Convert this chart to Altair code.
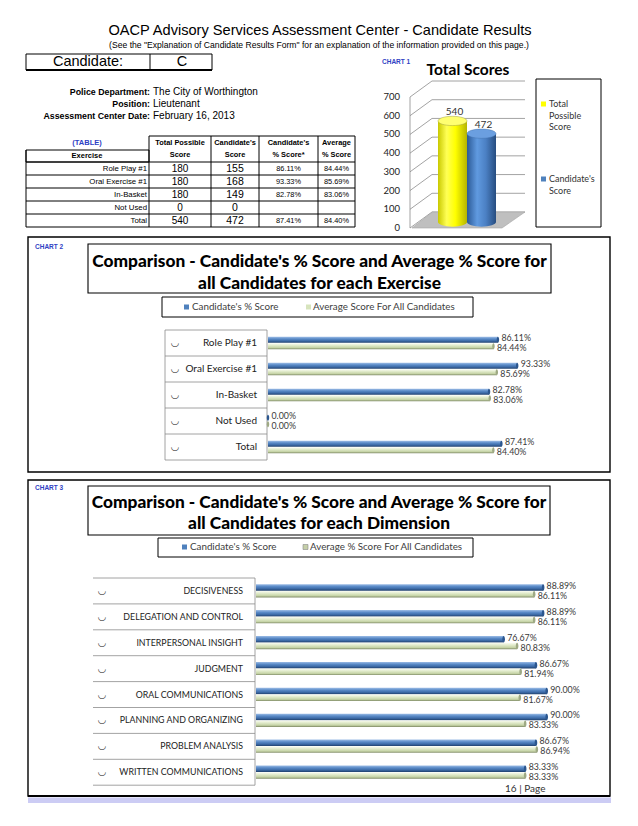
import altair as alt
import pandas as pd

# ------------------------------------------------------------------ data
exercises = ["Role Play #1", "Oral Exercise #1", "In-Basket", "Not Used", "Total"]
total_possible = [180, 180, 180, 0, 540]
candidate_score = [155, 168, 149, 0, 472]
candidate_pct_text = ["86.11%", "93.33%", "82.78%", "", "87.41%"]
average_pct_text = ["84.44%", "85.69%", "83.06%", "", "84.40%"]

total_series = ["Total Possible Score", "Candidate's Score"]
total_values = [540, 472]
total_ticks = [0, 100, 200, 300, 400, 500, 600, 700]

exercise_candidate_pct = [86.11, 93.33, 82.78, 0.00, 87.41]
exercise_average_pct = [84.44, 85.69, 83.06, 0.00, 84.40]

dimensions = ["DECISIVENESS", "DELEGATION AND CONTROL", "INTERPERSONAL INSIGHT",
              "JUDGMENT", "ORAL COMMUNICATIONS", "PLANNING AND ORGANIZING",
              "PROBLEM ANALYSIS", "WRITTEN COMMUNICATIONS"]
dimension_candidate_pct = [88.89, 88.89, 76.67, 86.67, 90.00, 90.00, 86.67, 83.33]
dimension_average_pct = [86.11, 86.11, 80.83, 81.94, 81.67, 83.33, 86.94, 83.33]

# ------------------------------------------------------------------ helpers
OFF = 8  # page margin
ARIAL = "Liberation Sans"
CAL = "Lato"
BLUE_TXT = "#2f3fc4"
one = pd.DataFrame({"k": [0]})
layers = []


def P(v):
    return alt.value(v - OFF)


def text(x, y, s, size=9, font=ARIAL, weight="normal", color="black",
         align="left", baseline="middle"):
    layers.append(alt.Chart(one).mark_text(
        text=s, fontSize=size, font=font, fontWeight=weight, color=color,
        align=align, baseline=baseline).encode(x=P(x), y=P(y)))


def rule(x1, y1, x2, y2, color="black", width=1.0):
    layers.append(alt.Chart(one).mark_rule(color=color, strokeWidth=width)
                  .encode(x=P(x1), y=P(y1), x2=P(x2), y2=P(y2)))


def box(x1, y1, x2, y2, stroke="black", width=1.0, fill=None):
    kw = {}
    if stroke:
        kw["stroke"] = stroke
        kw["strokeWidth"] = width
    if fill:
        kw["fill"] = fill
    else:
        kw["fillOpacity"] = 0
    layers.append(alt.Chart(one).mark_rect(**kw)
                  .encode(x=P(x1), y=P(y1), x2=P(x2), y2=P(y2)))


def grad(stops, vertical=True):
    st = [alt.GradientStop(color=c, offset=o) for o, c in stops]
    if vertical:
        return alt.Gradient(gradient="linear", stops=st, x1=0, x2=0, y1=0, y2=1)
    return alt.Gradient(gradient="linear", stops=st, x1=0, x2=1, y1=0, y2=0)


blue_h = grad([(0, "#9dbde6"), (0.35, "#5a8bc8"), (0.7, "#3c6aa6"), (1, "#1f3f6b")])
green_h = grad([(0, "#fbfdf4"), (0.4, "#dfe9c8"), (0.75, "#c5d3a6"), (1, "#7f8a66")])
yellow_v = grad([(0, "#c9c900"), (0.3, "#ffff55"), (0.6, "#ffff00"), (1, "#b5b500")], vertical=False)
blue_v = grad([(0, "#2c5a96"), (0.35, "#609ae0"), (0.65, "#4b80c4"), (1, "#274d80")], vertical=False)

ELLIPSE_H = "M -1 0 A 1 0.32 0 1 1 1 0 A 1 0.32 0 1 1 -1 0 Z"
ELLIPSE_V = "M 0 -1 A 0.4 1 0 1 1 0 1 A 0.4 1 0 1 1 0 -1 Z"

# ------------------------------------------------------------------ header
text(320, 31, "OACP Advisory Services Assessment Center - Candidate Results", size=14.6,
     align="center")
text(319, 45, '(See the "Explanation of Candidate Results Form" for an explanation of the '
     'information provided on this page.)', size=8.6, align="center")

box(26, 54, 212, 70, width=1)
rule(26, 70, 212, 70, width=2)
rule(150, 54, 150, 70, width=1)
text(88, 62, "Candidate:", size=14.5, align="center")
text(182, 62, "C", size=14.5, align="center")

for yy, lab, val in [(92, "Police Department:", "The City of Worthington"),
                     (104, "Position:", "Lieutenant"),
                     (116, "Assessment Center Date:", "February 16, 2013")]:
    text(150, yy, lab, size=8.8, weight="bold", align="right")
    text(153, yy, val, size=10)

# ------------------------------------------------------------------ table
text(87, 143, "(TABLE)", size=7.5, weight="bold", color=BLUE_TXT, align="center")
col_edges = [149, 211, 259, 318, 355]
row_top, row_h = 162, 13
row_bottom = row_top + row_h * len(exercises)
box(26, 150, 149, row_top, width=1)
text(87, 156, "Exercise", size=7.5, weight="bold", align="center")
rule(149, 136, 355, 136)
for xe in col_edges:
    rule(xe, 136, xe, row_bottom)
rule(26, 150, 26, row_bottom)
for k in range(len(exercises) + 1):
    rule(26, row_top + k * row_h, 355, row_top + k * row_h)
headers = [("Total Possible", "Score"), ("Candidate's", "Score"),
           ("Candidate's", "% Score*"), ("Average", "% Score")]
for i, (a, b) in enumerate(headers):
    cx = (col_edges[i] + col_edges[i + 1]) / 2
    text(cx, 143, a, size=7.4, weight="bold", align="center")
    text(cx, 155, b, size=7.4, weight="bold", align="center")

table_df = pd.DataFrame({"exercise": exercises, "possible": total_possible,
                         "score": candidate_score, "cpct": candidate_pct_text,
                         "apct": average_pct_text})
ty = alt.Y("exercise:N", axis=None,
           scale=alt.Scale(type="point", domain=exercises, padding=0,
                           range=[row_top + row_h / 2 - OFF, row_bottom - row_h / 2 - OFF]))
layers.append(alt.Chart(table_df).mark_text(align="right", fontSize=7.8, font=ARIAL)
              .encode(x=P(147), y=ty, text="exercise:N"))
for i, (fld, fs) in enumerate([("possible", 10), ("score", 10.5), ("cpct", 7.4), ("apct", 7.4)]):
    cx = (col_edges[i] + col_edges[i + 1]) / 2
    layers.append(alt.Chart(table_df).mark_text(align="center", fontSize=fs, font=ARIAL)
                  .encode(x=P(cx), y=ty, text=f"{fld}:N"))

# ------------------------------------------------------------------ chart 1
text(382, 62, "CHART 1", size=6.5, weight="bold", color=BLUE_TXT)
text(468, 70, "Total Scores", size=15.5, font=CAL, weight="bold", align="center")

ticks_df = pd.DataFrame({"v": total_ticks})
front = alt.Scale(domain=[0, 700], range=[228 - OFF, 97 - OFF])
back = alt.Scale(domain=[0, 700], range=[212 - OFF, 81 - OFF])
layers.append(alt.Chart(ticks_df).mark_rule(color="#8c8c8c", strokeWidth=0.8)
              .encode(x=P(432), x2=P(525), y=alt.Y("v:Q", scale=back, axis=None)))
layers.append(alt.Chart(ticks_df).transform_calculate(v2="datum.v + 85.5")
              .mark_rule(color="#8c8c8c", strokeWidth=0.8)
              .encode(x=P(410), x2=P(432), y=alt.Y("v:Q", scale=front, axis=None), y2="v2:Q"))
layers.append(alt.Chart(ticks_df).mark_text(align="right", fontSize=9.5, font=CAL, color="#222")
              .encode(x=P(400), y=alt.Y("v:Q", scale=front, axis=None), text="v:Q"))
rule(410, 97, 410, 228, color="#8c8c8c", width=0.8)

FLOOR = "M -1 0.1416 L 0.593 0.1416 L 1 -0.1416 L -0.637 -0.1416 Z"
layers.append(alt.Chart(one).mark_point(shape=FLOOR, size=113 * 113, filled=True,
                                        fill="#bfbfbf", stroke="#a5a5a5", strokeWidth=0.6,
                                        opacity=1).encode(x=P(468.5), y=P(220)))

c1 = pd.DataFrame({"series": total_series, "value": total_values})
BW = 29
bx = alt.Scale(type="band", domain=total_series, range=[438 - OFF, 438 + 2 * BW - OFF],
               paddingInner=0, paddingOuter=0)
by = alt.Scale(domain=[0, 700], range=[222 - OFF, 91 - OFF])
for name, body, cap, edge in [(total_series[0], yellow_v, "#ffff70", "#8a8a40"),
                              (total_series[1], blue_v, "#6b9fe0", "#3d6aa5")]:
    base = alt.Chart(c1).transform_filter(alt.datum.series == name)
    ex = alt.X("series:N", scale=bx, axis=None)
    layers.append(base.transform_calculate(zero="0").mark_point(
        shape=ELLIPSE_H, size=BW * BW, filled=True, fill=body, opacity=1, strokeWidth=0)
        .encode(x=ex, y=alt.Y("zero:Q", scale=by, axis=None)))
    layers.append(base.mark_bar(color=body).encode(x=ex, y=alt.Y("value:Q", scale=by, axis=None)))
    layers.append(base.mark_point(shape=ELLIPSE_H, size=BW * BW, filled=True, fill=cap,
                                  opacity=1, stroke=edge, strokeWidth=0.4)
                  .encode(x=ex, y=alt.Y("value:Q", scale=by, axis=None)))
    layers.append(base.mark_text(baseline="bottom", dy=-4, dx=2, fontSize=10, font=CAL, color="#333")
                  .encode(x=ex, y=alt.Y("value:Q", scale=by, axis=None), text="value:Q"))

box(536, 79, 601, 227, width=1, fill="white")
box(541, 101.5, 546, 106.5, stroke=None, fill="#ffff00")
for j, s in enumerate(["Total", "Possible", "Score"]):
    text(549, 104 + j * 11.7, s, size=9, font=CAL, color="#333")
box(541, 176.5, 546, 181.5, stroke=None, fill="#4f81bd")
for j, s in enumerate(["Candidate's", "Score"]):
    text(549, 179 + j * 11.7, s, size=9, font=CAL, color="#333")

# ------------------------------------------------------------------ bar charts


def hbars(cats, cand, avg, first_c, step, x0, x100, size, offs):
    df = pd.DataFrame({"cat": cats, "cand": cand, "avg": avg})
    last_c = first_c + step * (len(cats) - 1)
    xs = alt.Scale(domain=[0, 100], range=[x0 - OFF, x100 - OFF])
    specs = [("cand", offs[0], blue_h, "#2b568e", offs[2]),
             ("avg", offs[1], green_h, "#9ea984", offs[3])]
    for fld, dy, body, cap, ldy in specs:
        ys = alt.Scale(type="point", domain=cats, padding=0,
                       range=[first_c + dy - OFF, last_c + dy - OFF])
        ls = alt.Scale(type="point", domain=cats, padding=0,
                       range=[first_c + ldy - OFF, last_c + ldy - OFF])
        base = alt.Chart(df).transform_calculate(lab=f"format(datum.{fld}, '.2f') + '%'")
        xe = alt.X(f"{fld}:Q", scale=xs, axis=None)
        layers.append(base.mark_bar(size=size, color=body)
                      .encode(x=xe, y=alt.Y("cat:N", scale=ys, axis=None)))
        layers.append(base.mark_point(shape=ELLIPSE_V, size=size * size, filled=True,
                                      fill=cap, opacity=1, strokeWidth=0)
                      .encode(x=xe, y=alt.Y("cat:N", scale=ys, axis=None)))
        layers.append(base.mark_text(align="left", dx=3.5, fontSize=8.8, font=CAL, color="#3a3a3a")
                      .encode(x=xe, y=alt.Y("cat:N", scale=ls, axis=None), text="lab:N"))
    return df, alt.Scale(type="point", domain=cats, padding=0,
                         range=[first_c - OFF, last_c - OFF])


# ------------------------------------------------------------------ chart 2
box(28, 237, 610, 472, width=1.4)
text(35, 247, "CHART 2", size=6.5, weight="bold", color=BLUE_TXT)
box(88, 244, 551, 293, width=1.1)
text(319.5, 262, "Comparison - Candidate's % Score and Average % Score for", size=17.3,
     font=CAL, weight=900, align="center")
text(319.5, 284, "all Candidates for each Exercise", size=17.3, font=CAL, weight=900,
     align="center")
box(162, 297, 473, 317, width=1)
box(184, 304.5, 189, 309.5, stroke=None, fill="#4f81bd")
text(192, 307, "Candidate's % Score", size=9.8, font=CAL, color="#404040")
box(306, 304.5, 311, 309.5, stroke=None, fill="#d7e4bd")
text(313, 307, "Average Score For All Candidates", size=9.8, font=CAL, color="#404040")

c2_top, c2_step = 330, 26
for k in range(len(exercises) + 1):
    rule(165, c2_top + k * c2_step, 267, c2_top + k * c2_step, color="#8c8c8c", width=0.8)
rule(165, c2_top, 165, c2_top + c2_step * len(exercises), color="#8c8c8c", width=0.8)
rule(267, c2_top, 267, c2_top + c2_step * len(exercises), color="#8c8c8c", width=0.8)
df2, cy2 = hbars(exercises, exercise_candidate_pct, exercise_average_pct,
                 c2_top + c2_step / 2, c2_step, 268, 535, 6, (-3.2, 3.2, -5, 5))
layers.append(alt.Chart(df2).mark_text(align="right", fontSize=10, font=CAL, color="#222")
              .encode(x=P(257), y=alt.Y("cat:N", scale=cy2, axis=None), text="cat:N"))
layers.append(alt.Chart(df2).mark_text(text="\u25e1", align="center", fontSize=10,
                                       font="DejaVu Sans", color="#444")
              .encode(x=P(175), y=alt.Y("cat:N", scale=cy2, axis=None)))

# ------------------------------------------------------------------ chart 3
box(28, 480, 610, 796, width=1.4)
rule(28, 796, 610, 796, width=2.2)
box(28, 797.5, 611, 803, stroke=None, fill="#ccccf4")
text(35, 488, "CHART 3", size=6.5, weight="bold", color=BLUE_TXT)
box(88, 486, 550, 535, width=1.1)
text(319, 503, "Comparison - Candidate's % Score and Average % Score for", size=17.3,
     font=CAL, weight=900, align="center")
text(319, 524, "all Candidates for each Dimension", size=17.3, font=CAL, weight=900,
     align="center")
box(158, 538, 473, 557, width=1)
box(182, 544.5, 187, 549.5, stroke=None, fill="#4f81bd")
text(190, 547, "Candidate's % Score", size=9.8, font=CAL, color="#404040")
box(303, 544.5, 308, 549.5, stroke="#888", width=0.6, fill="#c5cfa8")
text(310, 547, "Average % Score For All Candidates", size=9.8, font=CAL, color="#404040")

c3_top, c3_step = 578, 25.9
for k in range(len(dimensions) + 1):
    rule(93, c3_top + k * c3_step, 255, c3_top + k * c3_step, color="#8c8c8c", width=0.8)
rule(255, c3_top, 255, c3_top + c3_step * len(dimensions), color="#8c8c8c", width=0.8)
df3, cy3 = hbars(dimensions, dimension_candidate_pct, dimension_average_pct,
                 c3_top + c3_step / 2, c3_step, 256, 579, 6.5, (-3.5, 3.2, -5, 5))
layers.append(alt.Chart(df3).mark_text(align="right", fontSize=8.8, font=CAL, color="#222")
              .encode(x=P(243), y=alt.Y("cat:N", scale=cy3, axis=None), text="cat:N"))
layers.append(alt.Chart(df3).mark_text(text="\u25e1", align="center", fontSize=10,
                                       font="DejaVu Sans", color="#444")
              .encode(x=P(102), y=alt.Y("cat:N", scale=cy3, axis=None)))

text(505, 789, "16 | Page", size=10, font=CAL, color="#333")

# ------------------------------------------------------------------ assemble
chart = (alt.layer(*layers)
         .resolve_scale(x="independent", y="independent")
         .properties(width=622, height=810, padding=0,
                     autosize=alt.AutoSizeParams(type="none"), background="white")
         .configure_view(stroke=None))

chart.save("out.html", embed_options={"renderer": "svg", "actions": False})
